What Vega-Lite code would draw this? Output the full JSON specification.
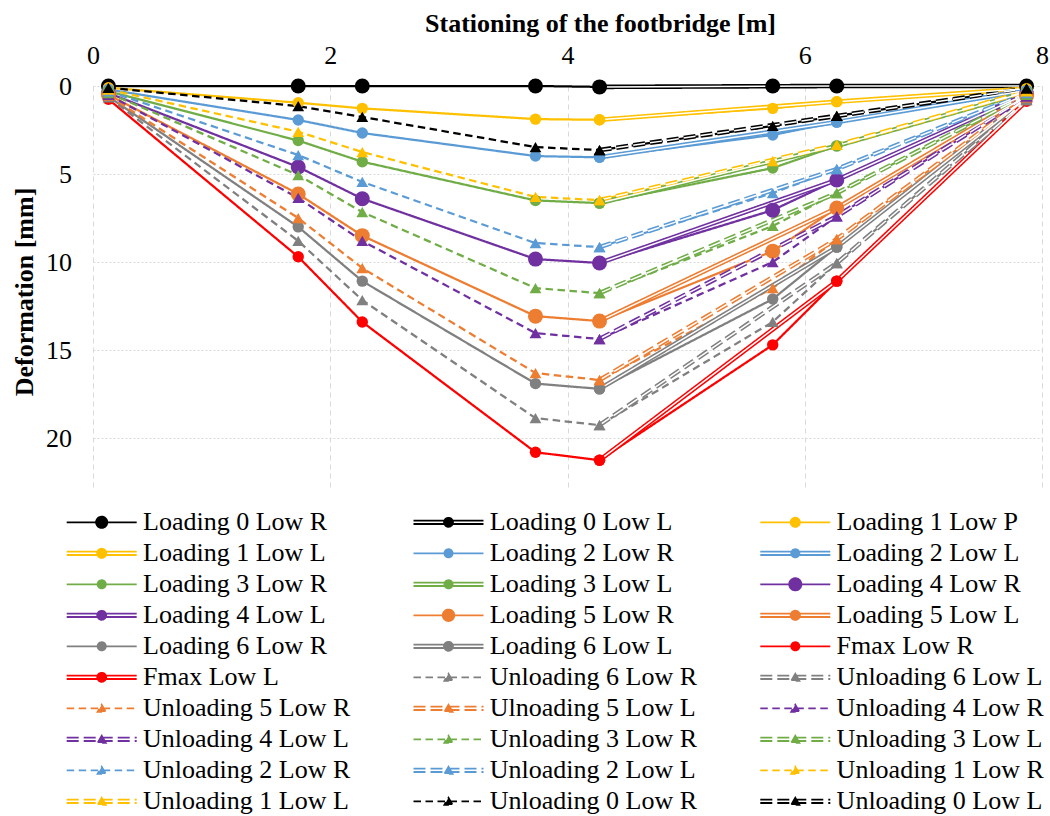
{
  "$schema": "https://vega.github.io/schema/vega-lite/v6.json",
  "width": 949,
  "height": 405,
  "autosize": {"type": "none"},
  "padding": {"left": 93, "top": 86, "right": 8, "bottom": 325},
  "background": "white",
  "config": {"view": {"stroke": null}, "font": "Liberation Serif"},
  "data": {"values": [
    {"s":"Loading 0 Low R","x":0.13,"y":0},{"s":"Loading 0 Low R","x":1.73,"y":0},{"s":"Loading 0 Low R","x":2.27,"y":0},{"s":"Loading 0 Low R","x":3.73,"y":0},{"s":"Loading 0 Low R","x":4.27,"y":0.05},{"s":"Loading 0 Low R","x":5.73,"y":0},{"s":"Loading 0 Low R","x":6.27,"y":0},{"s":"Loading 0 Low R","x":7.87,"y":0},
    {"s":"Loading 1 Low P","x":0.13,"y":0.1},{"s":"Loading 1 Low P","x":1.73,"y":0.95},{"s":"Loading 1 Low P","x":2.27,"y":1.27},{"s":"Loading 1 Low P","x":3.73,"y":1.88},{"s":"Loading 1 Low P","x":4.27,"y":1.92},{"s":"Loading 1 Low P","x":5.73,"y":1.27},{"s":"Loading 1 Low P","x":6.27,"y":0.89},{"s":"Loading 1 Low P","x":7.87,"y":0.15},
    {"s":"Loading 2 Low R","x":0.13,"y":0.2},{"s":"Loading 2 Low R","x":1.73,"y":1.93},{"s":"Loading 2 Low R","x":2.27,"y":2.67},{"s":"Loading 2 Low R","x":3.73,"y":3.98},{"s":"Loading 2 Low R","x":4.27,"y":4.05},{"s":"Loading 2 Low R","x":5.73,"y":2.78},{"s":"Loading 2 Low R","x":6.27,"y":2.05},{"s":"Loading 2 Low R","x":7.87,"y":0.25},
    {"s":"Loading 3 Low R","x":0.13,"y":0.3},{"s":"Loading 3 Low R","x":1.73,"y":3.1},{"s":"Loading 3 Low R","x":2.27,"y":4.3},{"s":"Loading 3 Low R","x":3.73,"y":6.5},{"s":"Loading 3 Low R","x":4.27,"y":6.65},{"s":"Loading 3 Low R","x":5.73,"y":4.66},{"s":"Loading 3 Low R","x":6.27,"y":3.4},{"s":"Loading 3 Low R","x":7.87,"y":0.35},
    {"s":"Loading 4 Low R","x":0.13,"y":0.4},{"s":"Loading 4 Low R","x":1.73,"y":4.6},{"s":"Loading 4 Low R","x":2.27,"y":6.4},{"s":"Loading 4 Low R","x":3.73,"y":9.83},{"s":"Loading 4 Low R","x":4.27,"y":10.05},{"s":"Loading 4 Low R","x":5.73,"y":7.05},{"s":"Loading 4 Low R","x":6.27,"y":5.34},{"s":"Loading 4 Low R","x":7.87,"y":0.45},
    {"s":"Loading 5 Low R","x":0.13,"y":0.5},{"s":"Loading 5 Low R","x":1.73,"y":6.13},{"s":"Loading 5 Low R","x":2.27,"y":8.5},{"s":"Loading 5 Low R","x":3.73,"y":13.07},{"s":"Loading 5 Low R","x":4.27,"y":13.35},{"s":"Loading 5 Low R","x":5.73,"y":9.38},{"s":"Loading 5 Low R","x":6.27,"y":6.93},{"s":"Loading 5 Low R","x":7.87,"y":0.55},
    {"s":"Loading 6 Low R","x":0.13,"y":0.6},{"s":"Loading 6 Low R","x":1.73,"y":8.0},{"s":"Loading 6 Low R","x":2.27,"y":11.08},{"s":"Loading 6 Low R","x":3.73,"y":16.9},{"s":"Loading 6 Low R","x":4.27,"y":17.2},{"s":"Loading 6 Low R","x":5.73,"y":12.1},{"s":"Loading 6 Low R","x":6.27,"y":9.15},{"s":"Loading 6 Low R","x":7.87,"y":0.7},
    {"s":"Fmax Low R","x":0.13,"y":0.75},{"s":"Fmax Low R","x":1.73,"y":9.7},{"s":"Fmax Low R","x":2.27,"y":13.4},{"s":"Fmax Low R","x":3.73,"y":20.8},{"s":"Fmax Low R","x":4.27,"y":21.25},{"s":"Fmax Low R","x":5.73,"y":14.7},{"s":"Fmax Low R","x":6.27,"y":11.08},{"s":"Fmax Low R","x":7.87,"y":0.85},
    {"s":"Unloading 6 Low R","x":0.13,"y":0.65},{"s":"Unloading 6 Low R","x":1.73,"y":8.8},{"s":"Unloading 6 Low R","x":2.27,"y":12.16},{"s":"Unloading 6 Low R","x":3.73,"y":18.86},{"s":"Unloading 6 Low R","x":4.27,"y":19.26},{"s":"Unloading 6 Low R","x":5.73,"y":13.4},{"s":"Unloading 6 Low R","x":6.27,"y":10.06},{"s":"Unloading 6 Low R","x":7.87,"y":0.8},
    {"s":"Unloading 5 Low R","x":0.13,"y":0.55},{"s":"Unloading 5 Low R","x":1.73,"y":7.5},{"s":"Unloading 5 Low R","x":2.27,"y":10.34},{"s":"Unloading 5 Low R","x":3.73,"y":16.3},{"s":"Unloading 5 Low R","x":4.27,"y":16.7},{"s":"Unloading 5 Low R","x":5.73,"y":11.48},{"s":"Unloading 5 Low R","x":6.27,"y":8.7},{"s":"Unloading 5 Low R","x":7.87,"y":0.65},
    {"s":"Unloading 4 Low R","x":0.13,"y":0.5},{"s":"Unloading 4 Low R","x":1.73,"y":6.36},{"s":"Unloading 4 Low R","x":2.27,"y":8.8},{"s":"Unloading 4 Low R","x":3.73,"y":14.03},{"s":"Unloading 4 Low R","x":4.27,"y":14.37},{"s":"Unloading 4 Low R","x":5.73,"y":10.0},{"s":"Unloading 4 Low R","x":6.27,"y":7.4},{"s":"Unloading 4 Low R","x":7.87,"y":0.6},
    {"s":"Unloading 3 Low R","x":0.13,"y":0.4},{"s":"Unloading 3 Low R","x":1.73,"y":5.06},{"s":"Unloading 3 Low R","x":2.27,"y":7.16},{"s":"Unloading 3 Low R","x":3.73,"y":11.48},{"s":"Unloading 3 Low R","x":4.27,"y":11.76},{"s":"Unloading 3 Low R","x":5.73,"y":7.95},{"s":"Unloading 3 Low R","x":6.27,"y":6.08},{"s":"Unloading 3 Low R","x":7.87,"y":0.5},
    {"s":"Unloading 2 Low R","x":0.13,"y":0.3},{"s":"Unloading 2 Low R","x":1.73,"y":3.92},{"s":"Unloading 2 Low R","x":2.27,"y":5.45},{"s":"Unloading 2 Low R","x":3.73,"y":8.92},{"s":"Unloading 2 Low R","x":4.27,"y":9.15},{"s":"Unloading 2 Low R","x":5.73,"y":6.08},{"s":"Unloading 2 Low R","x":6.27,"y":4.72},{"s":"Unloading 2 Low R","x":7.87,"y":0.4},
    {"s":"Unloading 1 Low R","x":0.13,"y":0.2},{"s":"Unloading 1 Low R","x":1.73,"y":2.6},{"s":"Unloading 1 Low R","x":2.27,"y":3.75},{"s":"Unloading 1 Low R","x":3.73,"y":6.3},{"s":"Unloading 1 Low R","x":4.27,"y":6.48},{"s":"Unloading 1 Low R","x":5.73,"y":4.26},{"s":"Unloading 1 Low R","x":6.27,"y":3.35},{"s":"Unloading 1 Low R","x":7.87,"y":0.3},
    {"s":"Unloading 0 Low R","x":0.13,"y":0.1},{"s":"Unloading 0 Low R","x":1.73,"y":1.14},{"s":"Unloading 0 Low R","x":2.27,"y":1.76},{"s":"Unloading 0 Low R","x":3.73,"y":3.47},{"s":"Unloading 0 Low R","x":4.27,"y":3.64},{"s":"Unloading 0 Low R","x":5.73,"y":2.27},{"s":"Unloading 0 Low R","x":6.27,"y":1.7},{"s":"Unloading 0 Low R","x":7.87,"y":0.15},
    {"s":"Loading 0 Low L","x":4.27,"y":0.05},{"s":"Loading 0 Low L","x":6.27,"y":0},{"s":"Loading 0 Low L","x":7.87,"y":0},
    {"s":"Loading 1 Low L","x":4.27,"y":1.92},{"s":"Loading 1 Low L","x":6.27,"y":0.89},{"s":"Loading 1 Low L","x":7.87,"y":0.15},
    {"s":"Loading 2 Low L","x":4.27,"y":4.05},{"s":"Loading 2 Low L","x":6.27,"y":2.05},{"s":"Loading 2 Low L","x":7.87,"y":0.25},
    {"s":"Loading 3 Low L","x":4.27,"y":6.65},{"s":"Loading 3 Low L","x":6.27,"y":3.4},{"s":"Loading 3 Low L","x":7.87,"y":0.35},
    {"s":"Loading 4 Low L","x":4.27,"y":10.05},{"s":"Loading 4 Low L","x":6.27,"y":5.34},{"s":"Loading 4 Low L","x":7.87,"y":0.45},
    {"s":"Loading 5 Low L","x":4.27,"y":13.35},{"s":"Loading 5 Low L","x":6.27,"y":6.93},{"s":"Loading 5 Low L","x":7.87,"y":0.55},
    {"s":"Loading 6 Low L","x":4.27,"y":17.2},{"s":"Loading 6 Low L","x":6.27,"y":9.15},{"s":"Loading 6 Low L","x":7.87,"y":0.7},
    {"s":"Fmax Low L","x":4.27,"y":21.25},{"s":"Fmax Low L","x":6.27,"y":11.08},{"s":"Fmax Low L","x":7.87,"y":0.85},
    {"s":"Unloading 6 Low L","x":4.27,"y":19.26},{"s":"Unloading 6 Low L","x":6.27,"y":10.06},{"s":"Unloading 6 Low L","x":7.87,"y":0.8},
    {"s":"Ulnoading 5 Low L","x":4.27,"y":16.7},{"s":"Ulnoading 5 Low L","x":6.27,"y":8.7},{"s":"Ulnoading 5 Low L","x":7.87,"y":0.65},
    {"s":"Unloading 4 Low L","x":4.27,"y":14.37},{"s":"Unloading 4 Low L","x":6.27,"y":7.4},{"s":"Unloading 4 Low L","x":7.87,"y":0.6},
    {"s":"Unloading 3 Low L","x":4.27,"y":11.76},{"s":"Unloading 3 Low L","x":6.27,"y":6.08},{"s":"Unloading 3 Low L","x":7.87,"y":0.5},
    {"s":"Unloading 2 Low L","x":4.27,"y":9.15},{"s":"Unloading 2 Low L","x":6.27,"y":4.72},{"s":"Unloading 2 Low L","x":7.87,"y":0.4},
    {"s":"Unloading 1 Low L","x":4.27,"y":6.48},{"s":"Unloading 1 Low L","x":6.27,"y":3.35},{"s":"Unloading 1 Low L","x":7.87,"y":0.3},
    {"s":"Unloading 0 Low L","x":4.27,"y":3.64},{"s":"Unloading 0 Low L","x":6.27,"y":1.7},{"s":"Unloading 0 Low L","x":7.87,"y":0.15}
  ]},
  "encoding": {
    "x": {"field": "x", "type": "quantitative",
      "scale": {"domain": [0, 8], "nice": false, "zero": false},
      "axis": {"orient": "top", "values": [0, 2, 4, 6, 8], "title": "Stationing of the footbridge [m]",
        "titleFont": "Liberation Serif", "titleFontSize": 26, "titleFontWeight": "bold", "titleColor": "black",
        "titleX": 507, "titleY": -55, "titleBaseline": "alphabetic",
        "labelFont": "Liberation Serif", "labelFontSize": 26, "labelColor": "black", "labelPadding": 23,
        "labelBaseline": "alphabetic", "labelFlush": false, "labelOverlap": false,
        "ticks": false, "tickSize": 0, "domain": false, "grid": true, "gridColor": "#D9D9D9", "gridDash": [5, 4], "gridWidth": 1}},
    "y": {"field": "y", "type": "quantitative",
      "scale": {"domain": [0, 23], "nice": false, "reverse": true},
      "axis": {"values": [0, 5, 10, 15, 20], "title": "Deformation [mm]",
        "titleFont": "Liberation Serif", "titleFontSize": 26, "titleFontWeight": "bold", "titleColor": "black",
        "titleX": -61, "titleY": 205.5, "titleAngle": -90, "titleBaseline": "alphabetic",
        "labelFont": "Liberation Serif", "labelFontSize": 26, "labelColor": "black", "labelPadding": 21.5,
        "labelBaseline": "middle", "labelOverlap": false, "labelFlush": false,
        "ticks": false, "tickSize": 0, "domain": false, "grid": true, "gridColor": "#D9D9D9", "gridDash": [2, 2], "gridWidth": 1}}
  },
  "layer": [
    {
      "transform": [{"filter": "indexof(datum.s, 'Low L') < 0"}],
      "mark": {"type": "line", "strokeWidth": 2.25, "strokeCap": "butt"},
      "encoding": {
        "color": {"field": "s", "type": "nominal",
          "scale": {"domain": ["Loading 0 Low R","Loading 0 Low L","Loading 1 Low P","Loading 1 Low L","Loading 2 Low R","Loading 2 Low L","Loading 3 Low R","Loading 3 Low L","Loading 4 Low R","Loading 4 Low L","Loading 5 Low R","Loading 5 Low L","Loading 6 Low R","Loading 6 Low L","Fmax Low R","Fmax Low L","Unloading 6 Low R","Unloading 6 Low L","Unloading 5 Low R","Ulnoading 5 Low L","Unloading 4 Low R","Unloading 4 Low L","Unloading 3 Low R","Unloading 3 Low L","Unloading 2 Low R","Unloading 2 Low L","Unloading 1 Low R","Unloading 1 Low L","Unloading 0 Low R","Unloading 0 Low L"],
            "range": ["#000000","#000000","#FFC000","#FFC000","#5B9BD5","#5B9BD5","#70AD47","#70AD47","#7030A0","#7030A0","#ED7D31","#ED7D31","#808080","#808080","#FF0000","#FF0000","#808080","#808080","#ED7D31","#ED7D31","#7030A0","#7030A0","#70AD47","#70AD47","#5B9BD5","#5B9BD5","#FFC000","#FFC000","#000000","#000000"]}},
        "strokeDash": {"field": "s", "type": "nominal",
          "scale": {"domain": ["Loading 0 Low R","Loading 0 Low L","Loading 1 Low P","Loading 1 Low L","Loading 2 Low R","Loading 2 Low L","Loading 3 Low R","Loading 3 Low L","Loading 4 Low R","Loading 4 Low L","Loading 5 Low R","Loading 5 Low L","Loading 6 Low R","Loading 6 Low L","Fmax Low R","Fmax Low L","Unloading 6 Low R","Unloading 6 Low L","Unloading 5 Low R","Ulnoading 5 Low L","Unloading 4 Low R","Unloading 4 Low L","Unloading 3 Low R","Unloading 3 Low L","Unloading 2 Low R","Unloading 2 Low L","Unloading 1 Low R","Unloading 1 Low L","Unloading 0 Low R","Unloading 0 Low L"],
            "range": [[1,0],[1,0],[1,0],[1,0],[1,0],[1,0],[1,0],[1,0],[1,0],[1,0],[1,0],[1,0],[1,0],[1,0],[1,0],[1,0],[7.5,4.5],[12,5],[7.5,4.5],[12,5],[7.5,4.5],[12,5],[7.5,4.5],[12,5],[7.5,4.5],[12,5],[7.5,4.5],[12,5],[7.5,4.5],[12,5]]}}
      }
    },
    {
      "transform": [{"filter": "indexof(datum.s, 'Low L') >= 0"}],
      "mark": {"type": "line", "strokeWidth": 4.6, "strokeCap": "butt"},
      "encoding": {
        "color": {"field": "s", "type": "nominal"},
        "strokeDash": {"field": "s", "type": "nominal"}
      }
    },
    {
      "transform": [{"filter": "indexof(datum.s, 'Low L') >= 0 && !test(/^U/, datum.s)"}],
      "mark": {"type": "line", "strokeWidth": 1.5, "strokeCap": "butt", "color": "white"},
      "encoding": {"detail": {"field": "s", "type": "nominal"}}
    },
    {
      "transform": [{"filter": "indexof(datum.s, 'Low L') >= 0 && test(/^U/, datum.s)"}],
      "mark": {"type": "line", "strokeWidth": 1.5, "strokeCap": "butt", "color": "white", "strokeDash": [12, 5]},
      "encoding": {"detail": {"field": "s", "type": "nominal"}}
    },
    {
      "transform": [{"filter": "datum.s == 'Loading 0 Low R' || datum.s == 'Loading 4 Low R' || datum.s == 'Loading 5 Low R'"}],
      "mark": {"type": "point", "shape": "circle", "filled": true, "opacity": 1, "size": 225},
      "encoding": {"color": {"field": "s", "type": "nominal"}}
    },
    {
      "transform": [{"filter": "!test(/^U/, datum.s) && datum.s != 'Loading 0 Low R' && datum.s != 'Loading 4 Low R' && datum.s != 'Loading 5 Low R'"}],
      "mark": {"type": "point", "shape": "circle", "filled": true, "opacity": 1, "size": 130},
      "encoding": {"color": {"field": "s", "type": "nominal"}}
    },
    {
      "transform": [{"filter": "test(/^U/, datum.s)"}],
      "mark": {"type": "point", "shape": "triangle-up", "filled": true, "opacity": 1, "size": 140},
      "encoding": {"color": {"field": "s", "type": "nominal"}}
    },
    {
      "transform": [{"filter": "datum.x < -1"}],
      "mark": {"type": "point", "filled": true, "opacity": 1},
      "encoding": {
        "color": {"field": "s", "type": "nominal",
          "legend": {"title": null, "orient": "none", "legendX": -26.3, "legendY": 423.3, "direction": "horizontal", "columns": 3,
            "padding": 0, "rowPadding": 5, "columnPadding": 58.8, "labelOffset": 28.3, "symbolOffset": 22,
            "symbolSize": 576, "symbolStrokeWidth": 1.8, "symbolLimit": 40,
            "labelFont": "Liberation Serif", "labelFontSize": 26, "labelColor": "black", "labelLimit": 400, "labelBaseline": "middle"}},
        "stroke": {"field": "s", "type": "nominal",
          "scale": {"domain": ["Loading 0 Low R","Loading 0 Low L","Loading 1 Low P","Loading 1 Low L","Loading 2 Low R","Loading 2 Low L","Loading 3 Low R","Loading 3 Low L","Loading 4 Low R","Loading 4 Low L","Loading 5 Low R","Loading 5 Low L","Loading 6 Low R","Loading 6 Low L","Fmax Low R","Fmax Low L","Unloading 6 Low R","Unloading 6 Low L","Unloading 5 Low R","Ulnoading 5 Low L","Unloading 4 Low R","Unloading 4 Low L","Unloading 3 Low R","Unloading 3 Low L","Unloading 2 Low R","Unloading 2 Low L","Unloading 1 Low R","Unloading 1 Low L","Unloading 0 Low R","Unloading 0 Low L"],
            "range": ["#000000","#000000","#FFC000","#FFC000","#5B9BD5","#5B9BD5","#70AD47","#70AD47","#7030A0","#7030A0","#ED7D31","#ED7D31","#808080","#808080","#FF0000","#FF0000","#808080","#808080","#ED7D31","#ED7D31","#7030A0","#7030A0","#70AD47","#70AD47","#5B9BD5","#5B9BD5","#FFC000","#FFC000","#000000","#000000"]}},
        "strokeDash": {"field": "s", "type": "nominal"},
        "shape": {"field": "s", "type": "nominal",
          "scale": {"domain": ["Loading 0 Low R","Loading 0 Low L","Loading 1 Low P","Loading 1 Low L","Loading 2 Low R","Loading 2 Low L","Loading 3 Low R","Loading 3 Low L","Loading 4 Low R","Loading 4 Low L","Loading 5 Low R","Loading 5 Low L","Loading 6 Low R","Loading 6 Low L","Fmax Low R","Fmax Low L","Unloading 6 Low R","Unloading 6 Low L","Unloading 5 Low R","Ulnoading 5 Low L","Unloading 4 Low R","Unloading 4 Low L","Unloading 3 Low R","Unloading 3 Low L","Unloading 2 Low R","Unloading 2 Low L","Unloading 1 Low R","Unloading 1 Low L","Unloading 0 Low R","Unloading 0 Low L"],
            "range": [
              "M-2.917,0L2.917,0M0.467,0A0.467,0.467,0,1,1,-0.467,0A0.467,0.467,0,1,1,0.467,0Z",
              "M-2.917,-0.142L2.917,-0.142M-2.917,0.142L2.917,0.142M0.371,0A0.371,0.371,0,1,1,-0.371,0A0.371,0.371,0,1,1,0.371,0Z",
              "M-2.917,0L2.917,0M0.383,0A0.383,0.383,0,1,1,-0.383,0A0.383,0.383,0,1,1,0.383,0Z",
              "M-2.917,-0.142L2.917,-0.142M-2.917,0.142L2.917,0.142M0.383,0A0.383,0.383,0,1,1,-0.383,0A0.383,0.383,0,1,1,0.383,0Z",
              "M-2.917,0L2.917,0M0.342,0A0.342,0.342,0,1,1,-0.342,0A0.342,0.342,0,1,1,0.342,0Z",
              "M-2.917,-0.142L2.917,-0.142M-2.917,0.142L2.917,0.142M0.342,0A0.342,0.342,0,1,1,-0.342,0A0.342,0.342,0,1,1,0.342,0Z",
              "M-2.917,0L2.917,0M0.342,0A0.342,0.342,0,1,1,-0.342,0A0.342,0.342,0,1,1,0.342,0Z",
              "M-2.917,-0.142L2.917,-0.142M-2.917,0.142L2.917,0.142M0.342,0A0.342,0.342,0,1,1,-0.342,0A0.342,0.342,0,1,1,0.342,0Z",
              "M-2.917,0L2.917,0M0.508,0A0.508,0.508,0,1,1,-0.508,0A0.508,0.508,0,1,1,0.508,0Z",
              "M-2.917,-0.142L2.917,-0.142M-2.917,0.142L2.917,0.142M0.371,0A0.371,0.371,0,1,1,-0.371,0A0.371,0.371,0,1,1,0.371,0Z",
              "M-2.917,0L2.917,0M0.479,0A0.479,0.479,0,1,1,-0.479,0A0.479,0.479,0,1,1,0.479,0Z",
              "M-2.917,-0.142L2.917,-0.142M-2.917,0.142L2.917,0.142M0.383,0A0.383,0.383,0,1,1,-0.383,0A0.383,0.383,0,1,1,0.383,0Z",
              "M-2.917,0L2.917,0M0.342,0A0.342,0.342,0,1,1,-0.342,0A0.342,0.342,0,1,1,0.342,0Z",
              "M-2.917,-0.142L2.917,-0.142M-2.917,0.142L2.917,0.142M0.371,0A0.371,0.371,0,1,1,-0.371,0A0.371,0.371,0,1,1,0.371,0Z",
              "M-2.917,0L2.917,0M0.342,0A0.342,0.342,0,1,1,-0.342,0A0.342,0.342,0,1,1,0.342,0Z",
              "M-2.917,-0.142L2.917,-0.142M-2.917,0.142L2.917,0.142M0.371,0A0.371,0.371,0,1,1,-0.371,0A0.371,0.371,0,1,1,0.371,0Z",
              "M-2.917,0L2.917,0M0,-0.3L0.342,0.3L-0.342,0.3Z",
              "M-2.917,-0.142L2.917,-0.142M-2.917,0.142L2.917,0.142M0,-0.3L0.342,0.3L-0.342,0.3Z",
              "M-2.917,0L2.917,0M0,-0.3L0.342,0.3L-0.342,0.3Z",
              "M-2.917,-0.142L2.917,-0.142M-2.917,0.142L2.917,0.142M0,-0.3L0.342,0.3L-0.342,0.3Z",
              "M-2.917,0L2.917,0M0,-0.3L0.342,0.3L-0.342,0.3Z",
              "M-2.917,-0.142L2.917,-0.142M-2.917,0.142L2.917,0.142M0,-0.3L0.342,0.3L-0.342,0.3Z",
              "M-2.917,0L2.917,0M0,-0.3L0.342,0.3L-0.342,0.3Z",
              "M-2.917,-0.142L2.917,-0.142M-2.917,0.142L2.917,0.142M0,-0.3L0.342,0.3L-0.342,0.3Z",
              "M-2.917,0L2.917,0M0,-0.3L0.342,0.3L-0.342,0.3Z",
              "M-2.917,-0.142L2.917,-0.142M-2.917,0.142L2.917,0.142M0,-0.3L0.342,0.3L-0.342,0.3Z",
              "M-2.917,0L2.917,0M0,-0.3L0.342,0.3L-0.342,0.3Z",
              "M-2.917,-0.142L2.917,-0.142M-2.917,0.142L2.917,0.142M0,-0.3L0.342,0.3L-0.342,0.3Z",
              "M-2.917,0L2.917,0M0,-0.3L0.342,0.3L-0.342,0.3Z",
              "M-2.917,-0.142L2.917,-0.142M-2.917,0.142L2.917,0.142M0,-0.3L0.342,0.3L-0.342,0.3Z"
            ]}}
      }
    }
  ]
}
